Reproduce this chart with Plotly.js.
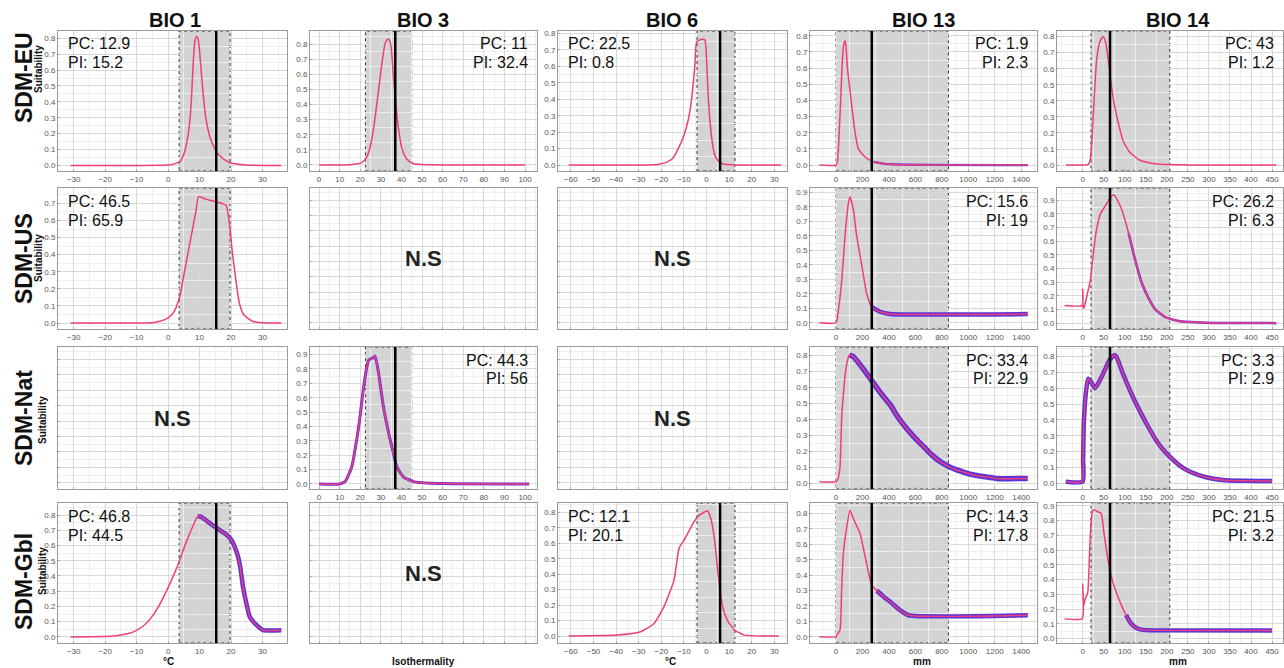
<!DOCTYPE html>
<html><head><meta charset="utf-8">
<script src="https://cdn.plot.ly/plotly-3.0.1.min.js"></script>
<style>html,body{margin:0;padding:0;background:#fff;}#chart{width:1284px;height:668px;}</style>
</head><body><div id="chart"></div>
<script>
// ---------- categories ----------
const rowNames = ['SDM-EU', 'SDM-US', 'SDM-Nat', 'SDM-Gbl'];
const colNames = ['BIO 1', 'BIO 3', 'BIO 6', 'BIO 13', 'BIO 14'];
const unitNames = ['°C', 'Isothermality', '°C', 'mm', 'mm'];

// ---------- reference values per variable ----------
const shadeLow = [3.5, 22.5, -4.2, 0, 19.7];
const shadeHigh = [19.7, 45, 12.6, 850, 207];
const observedMean = [15.3, 37, 6, 270, 65];

// ---------- PC / PI statistics (null = N.S) ----------
const pcValues = [[12.9, 11, 22.5, 1.9, 43], [46.5, null, null, 15.6, 26.2], [null, 44.3, null, 33.4, 3.3], [46.8, null, 12.1, 14.3, 21.5]];
const piValues = [[15.2, 32.4, 0.8, 2.3, 1.2], [65.9, null, null, 19, 6.3], [null, 56, null, 22.9, 2.9], [44.5, null, 20.1, 17.8, 3.2]];

// ---------- response curves ----------
const bio1EuX = [-31, -10, 0, 2, 4, 5, 6, 7, 7.5, 8, 8.5, 9, 9.5, 10, 10.5, 11, 12, 13, 14, 15, 16, 18, 20, 25, 36];
const bio1EuY = [0, 0, 0.002, 0.01, 0.03, 0.07, 0.15, 0.3, 0.45, 0.65, 0.78, 0.81, 0.8, 0.72, 0.6, 0.48, 0.3, 0.2, 0.14, 0.1, 0.07, 0.035, 0.015, 0.003, 0];
const bio3EuX = [0, 10, 15, 18, 20, 22, 24, 26, 28, 30, 31, 32, 33, 34, 35, 36, 37, 38, 39, 40, 42, 44, 46, 50, 60, 100];
const bio3EuY = [0, 0, 0.002, 0.006, 0.012, 0.03, 0.08, 0.2, 0.4, 0.62, 0.72, 0.8, 0.83, 0.83, 0.78, 0.6, 0.45, 0.3, 0.2, 0.12, 0.05, 0.02, 0.008, 0.003, 0, 0];
const bio6EuX = [-61, -30, -22, -18, -15, -12.5, -10, -8, -6.6, -5.2, -4.3, -2, -0.7, 0, 0.8, 2, 3, 4, 6, 8, 12, 33];
const bio6EuY = [0, 0, 0.004, 0.015, 0.04, 0.1, 0.18, 0.28, 0.4, 0.6, 0.75, 0.765, 0.76, 0.65, 0.4, 0.2, 0.1, 0.05, 0.015, 0.005, 0.001, 0];
const bio13EuX = [-126, 0, 10, 18, 25, 35, 45, 55, 68, 75, 86, 100, 114, 130, 144, 169, 220, 283, 400, 1450];
const bio13EuY = [0, 0, 0.02, 0.1, 0.22, 0.4, 0.6, 0.73, 0.77, 0.74, 0.6, 0.5, 0.4, 0.29, 0.2, 0.1, 0.05, 0.02, 0.005, 0];
const bio14EuX = [-40, 0, 12, 17, 22, 27, 33, 40, 45, 49, 55, 63, 69, 75, 85, 96, 112, 136, 176, 250, 460];
const bio14EuY = [0, 0, 0.003, 0.02, 0.15, 0.4, 0.65, 0.76, 0.79, 0.8, 0.76, 0.61, 0.48, 0.38, 0.26, 0.15, 0.08, 0.03, 0.006, 0.001, 0];

const bio1UsX = [-31, -10, -5, -2.6, 0, 2, 3.7, 5, 7, 8.9, 9.7, 12, 15, 18.4, 20.5, 22.6, 24, 26.8, 30, 36];
const bio1UsY = [0, 0, 0.002, 0.01, 0.03, 0.07, 0.155, 0.28, 0.475, 0.66, 0.74, 0.725, 0.71, 0.69, 0.4, 0.12, 0.05, 0.01, 0.002, 0];
const bio13UsX = [-126, 0, 18, 43, 68, 93, 106, 131, 156, 194, 232, 270, 333, 409, 1450];
const bio13UsY = [0, 0, 0.09, 0.29, 0.6, 0.82, 0.87, 0.78, 0.6, 0.4, 0.2, 0.11, 0.076, 0.06, 0.06];
const bio14UsX = [-43, -1, 0, 1, 3, 10, 18, 24, 30, 36, 42, 54, 66, 74, 86, 93, 109, 125, 141, 157, 173, 196, 228, 292, 460];
const bio14UsY = [0.13, 0.13, 0.25, 0.12, 0.11, 0.2, 0.31, 0.47, 0.63, 0.73, 0.8, 0.86, 0.92, 0.94, 0.88, 0.83, 0.66, 0.46, 0.29, 0.18, 0.1, 0.045, 0.015, 0.003, 0];

const bio3NatX = [0, 10, 12.6, 15.9, 18.3, 19.9, 21.5, 24, 26.4, 27.2, 28.8, 31.2, 33.7, 36, 37.7, 40.9, 45.8, 53.9, 102];
const bio3NatY = [0, 0, 0.016, 0.12, 0.31, 0.47, 0.66, 0.86, 0.88, 0.89, 0.78, 0.54, 0.36, 0.22, 0.12, 0.05, 0.016, 0.005, 0];
const bio13NatX = [-126, 0, 15, 30, 43, 55, 68, 85, 101, 131, 200, 270, 340, 409, 470, 535, 600, 661, 720, 787, 850, 913, 980, 1039, 1130, 1216, 1300, 1418, 1450];
const bio13NatY = [0.01, 0.01, 0.03, 0.1, 0.42, 0.55, 0.67, 0.76, 0.8, 0.79, 0.72, 0.64, 0.56, 0.49, 0.41, 0.34, 0.28, 0.23, 0.18, 0.135, 0.105, 0.083, 0.065, 0.052, 0.04, 0.03, 0.028, 0.03, 0.03];
const bio14NatX = [-40, 0, 1, 3, 9.4, 13.4, 20, 29, 37, 45, 55, 64.5, 76, 80, 96, 115, 135, 155, 175, 195, 214, 234, 254, 293, 332, 370, 411, 450];
const bio14NatY = [0.01, 0.01, 0.15, 0.4, 0.61, 0.66, 0.64, 0.6, 0.63, 0.67, 0.73, 0.78, 0.81, 0.8, 0.69, 0.57, 0.46, 0.36, 0.27, 0.2, 0.15, 0.105, 0.074, 0.038, 0.021, 0.016, 0.015, 0.015];

const bio1GblX = [-31, -25, -18.4, -15, -11, -8, -5.6, -3, -0.3, 2.9, 6.1, 9.4, 10.4, 13, 15.8, 18, 20, 21, 22.2, 23, 23.8, 25, 26, 28, 30.2, 36];
const bio1GblY = [0, 0.001, 0.004, 0.012, 0.033, 0.07, 0.12, 0.2, 0.31, 0.46, 0.64, 0.79, 0.79, 0.75, 0.71, 0.68, 0.64, 0.6, 0.53, 0.45, 0.33, 0.21, 0.13, 0.08, 0.044, 0.044];
const bio6GblX = [-61, -39.6, -29.2, -23.3, -18.8, -14.4, -12.1, -9.9, -5.5, -3.3, -1, 0.4, 1.9, 3.4, 5.6, 7.1, 9.3, 12.3, 16.7, 32];
const bio6GblY = [0, 0.006, 0.028, 0.08, 0.19, 0.36, 0.57, 0.62, 0.74, 0.78, 0.8, 0.81, 0.76, 0.64, 0.34, 0.19, 0.1, 0.04, 0.006, 0];
const bio13GblX = [-126, 0, 5, 30, 42, 55, 81, 106, 130, 155, 182, 220, 270, 308, 360, 409, 484, 547, 1450];
const bio13GblY = [0, 0, 0.01, 0.043, 0.3, 0.54, 0.71, 0.82, 0.77, 0.72, 0.67, 0.52, 0.335, 0.3, 0.26, 0.227, 0.173, 0.14, 0.14];
const bio14GblX = [-43, -1, 0, 2, 6, 12, 16, 20, 24, 30, 36, 44, 50, 56, 63, 70, 83, 93, 103, 113, 123, 133, 143, 160, 450];
const bio14GblY = [0.135, 0.135, 0.37, 0.22, 0.27, 0.31, 0.55, 0.79, 0.87, 0.87, 0.86, 0.85, 0.73, 0.61, 0.49, 0.4, 0.29, 0.22, 0.16, 0.11, 0.08, 0.065, 0.059, 0.056, 0.055];

// ---------- panel table (built from the arrays above) ----------
const panels = [
  [{x: bio1EuX, y: bio1EuY}, {x: bio3EuX, y: bio3EuY}, {x: bio6EuX, y: bio6EuY}, {x: bio13EuX, y: bio13EuY, band: [250, 2.2]}, {x: bio14EuX, y: bio14EuY}],
  [{x: bio1UsX, y: bio1UsY}, null, null, {x: bio13UsX, y: bio13UsY, band: [250, 4.5]}, {x: bio14UsX, y: bio14UsY, band: [100, 2.5]}],
  [null, {x: bio3NatX, y: bio3NatY, band: [0, 3]}, null, {x: bio13NatX, y: bio13NatY, band: [90, 5.5]}, {x: bio14NatX, y: bio14NatY, band: [-50, 4.5]}],
  [{x: bio1GblX, y: bio1GblY, band: [8, 4.5]}, null, {x: bio6GblX, y: bio6GblY}, {x: bio13GblX, y: bio13GblY, band: [300, 4.5]}, {x: bio14GblX, y: bio14GblY, band: [100, 4.5]}]
];

// ---------- geometry ----------
const W = 1284, H = 668;
const colL = [58, 310, 558, 810, 1057], colR = [287, 537, 787, 1037, 1283];
const rowT = [31, 188, 347, 503], rowB = [171, 329, 489, 643];
const xRanges = [[-35, 37.8], [-4.4, 105.8], [-65.7, 35.6], [-197, 1520], [-61, 476]];
const xDtick = [10, 10, 10, 200, 50];
const xMinor = [5, 5, 5, 100, 25];
const yRanges = [
  [[-0.035, 0.846], [-0.04, 0.887], [-0.036, 0.815], [-0.037, 0.83], [-0.037, 0.835]],
  [[-0.035, 0.79], [-0.04, 0.88], [-0.04, 0.88], [-0.043, 0.93], [-0.043, 0.99]],
  [[-0.04, 0.88], [-0.035, 0.953], [-0.04, 0.88], [-0.036, 0.85], [-0.036, 0.86]],
  [[-0.04, 0.879], [-0.04, 0.88], [-0.045, 0.86], [-0.04, 0.867], [-0.03, 0.92]]
];
const PINK = '#f03c7c', PURPLE = '#5a34d8';
const FONT = 'Liberation Sans, Arial, sans-serif';

const traces = [], shapes = [], annotations = [];
const layout = {
  width: W, height: H, autosize: false,
  margin: {l: 0, r: 0, t: 0, b: 0},
  paper_bgcolor: '#fff', plot_bgcolor: '#fff',
  showlegend: false, font: {family: FONT},
  shapes: shapes, annotations: annotations
};

const px = v => v / W, py = v => 1 - v / H;

for (let r = 0; r < 4; r++) {
  for (let c = 0; c < 5; c++) {
    const k = r * 5 + c + 1;
    const xa = 'xaxis' + k, ya = 'yaxis' + k;
    const xr = 'x' + k, yr = 'y' + k;
    const p = panels[r][c];
    const ns = !p;
    const xTickSet = {};
    if (c === 4) {
      const tv = [];
      for (let v = 0; v <= 450; v += 50) tv.push(v);
      Object.assign(xTickSet, {tickmode: 'array', tickvals: tv});
    } else {
      Object.assign(xTickSet, {tickmode: 'linear', tick0: 0, dtick: xDtick[c]});
    }
    layout[xa] = Object.assign({
      domain: [px(colL[c]), px(colR[c])], range: xRanges[c], anchor: yr,
      showgrid: true, gridcolor: '#d9d9d9', gridwidth: 1, zeroline: false,
      showline: true, linecolor: '#9a9a9a', linewidth: 1, mirror: true,
      ticks: 'inside', ticklen: 2, tickcolor: '#aaa',
      minor: {tick0: 0, dtick: xMinor[c], showgrid: true, gridcolor: '#eeeeee', ticks: ''},
      showticklabels: !ns, tickfont: {size: 8, color: '#555', family: FONT},
      fixedrange: true
    }, xTickSet);
    layout[ya] = {
      domain: [py(rowB[r]), py(rowT[r])], range: yRanges[r][c], anchor: xr,
      showgrid: true, gridcolor: '#d9d9d9', gridwidth: 1, zeroline: false,
      showline: true, linecolor: '#9a9a9a', linewidth: 1, mirror: true,
      ticks: 'inside', ticklen: 2, tickcolor: '#aaa',
      tickmode: 'linear', tick0: 0, dtick: 0.1, tickformat: '.1f',
      minor: {tick0: 0, dtick: 0.05, showgrid: true, gridcolor: '#eeeeee', ticks: ''},
      showticklabels: !ns, tickfont: {size: 8, color: '#555', family: FONT},
      fixedrange: true
    };

    const cx = (colL[c] + colR[c]) / 2, cy = (rowT[r] + rowB[r]) / 2;
    if (ns) {
      traces.push({x: [xRanges[c][0]], y: [0], xaxis: xr, yaxis: yr, mode: 'markers', marker: {opacity: 0}, hoverinfo: 'skip'});
      annotations.push({xref: 'paper', yref: 'paper', x: px(cx), y: py(cy), text: '<b>N.S</b>', showarrow: false,
        font: {size: 22, color: '#222', family: FONT}, xanchor: 'center', yanchor: 'middle'});
      continue;
    }

    // shaded range and observed mean line
    shapes.push({type: 'rect', xref: xr, yref: yr + ' domain', x0: shadeLow[c], x1: shadeHigh[c], y0: 0, y1: 1,
      fillcolor: '#d3d3d3', line: {color: '#333', width: 1, dash: 'dot'}, layer: 'below'});
    shapes.push({type: 'line', xref: xr, yref: yr + ' domain', x0: observedMean[c], x1: observedMean[c], y0: 0, y1: 1,
      line: {color: '#000', width: 2.5}, layer: 'above'});

    if (p.band) {
      const bx = [], by = [];
      p.x.forEach((v, i) => { if (v >= p.band[0]) { bx.push(v); by.push(p.y[i]); } });
      traces.push({x: bx, y: by, xaxis: xr, yaxis: yr, mode: 'lines',
        line: {color: PURPLE, width: p.band[1], shape: 'spline', smoothing: 0.5}, hoverinfo: 'skip'});
    }
    traces.push({x: p.x, y: p.y, xaxis: xr, yaxis: yr, mode: 'lines',
      line: {color: PINK, width: 1.5, shape: 'spline', smoothing: 0.5}, hoverinfo: 'skip'});

    // PC / PI labels
    const leftSide = (c === 0 || c === 2);
    const ax = leftSide ? colL[c] + 8 : colR[c] - 7;
    const anch = leftSide ? 'left' : 'right';
    annotations.push({xref: 'paper', yref: 'paper', x: px(ax), y: py(rowT[r] + 13), text: 'PC: ' + pcValues[r][c],
      showarrow: false, xanchor: anch, yanchor: 'middle', font: {size: 16, color: '#111', family: FONT}});
    annotations.push({xref: 'paper', yref: 'paper', x: px(ax), y: py(rowT[r] + 32), text: 'PI: ' + piValues[r][c],
      showarrow: false, xanchor: anch, yanchor: 'middle', font: {size: 16, color: '#111', family: FONT}});
  }
}

// column headers
const headerX = [175, 423, 672, 923, 1178];
colNames.forEach((t, c) => annotations.push({xref: 'paper', yref: 'paper', x: px(headerX[c]), y: py(20), text: '<b>' + t + '</b>',
  showarrow: false, xanchor: 'center', yanchor: 'middle', font: {size: 20, color: '#111', family: FONT}}));

// row labels
const rowLabelY = [77, 258, 418, 581];
const suitY = [69, 258, 420, 571];
const suitX = [38, 38, 42, 42];
rowNames.forEach((t, r) => {
  annotations.push({xref: 'paper', yref: 'paper', x: px(24), y: py(rowLabelY[r]), text: '<b>' + t + '</b>', textangle: -90,
    showarrow: false, xanchor: 'center', yanchor: 'middle', font: {size: 23, color: '#111', family: 'Liberation Sans Narrow, Liberation Sans, Arial, sans-serif'}});
  annotations.push({xref: 'paper', yref: 'paper', x: px(suitX[r]), y: py(suitY[r]), text: '<b>Suitability</b>', textangle: -90,
    showarrow: false, xanchor: 'center', yanchor: 'middle', font: {size: 10, color: '#111', family: FONT}});
});

// unit labels
const unitX = [169, 423, 670, 922, 1178];
unitNames.forEach((t, c) => annotations.push({xref: 'paper', yref: 'paper', x: px(unitX[c]), y: py(668), text: '<b>' + t + '</b>',
  showarrow: false, xanchor: 'center', yanchor: 'bottom', font: {size: 10, color: '#111', family: FONT}, borderpad: 0}));

Plotly.newPlot('chart', traces, layout, {displayModeBar: false, staticPlot: true});
</script>
</body></html>
